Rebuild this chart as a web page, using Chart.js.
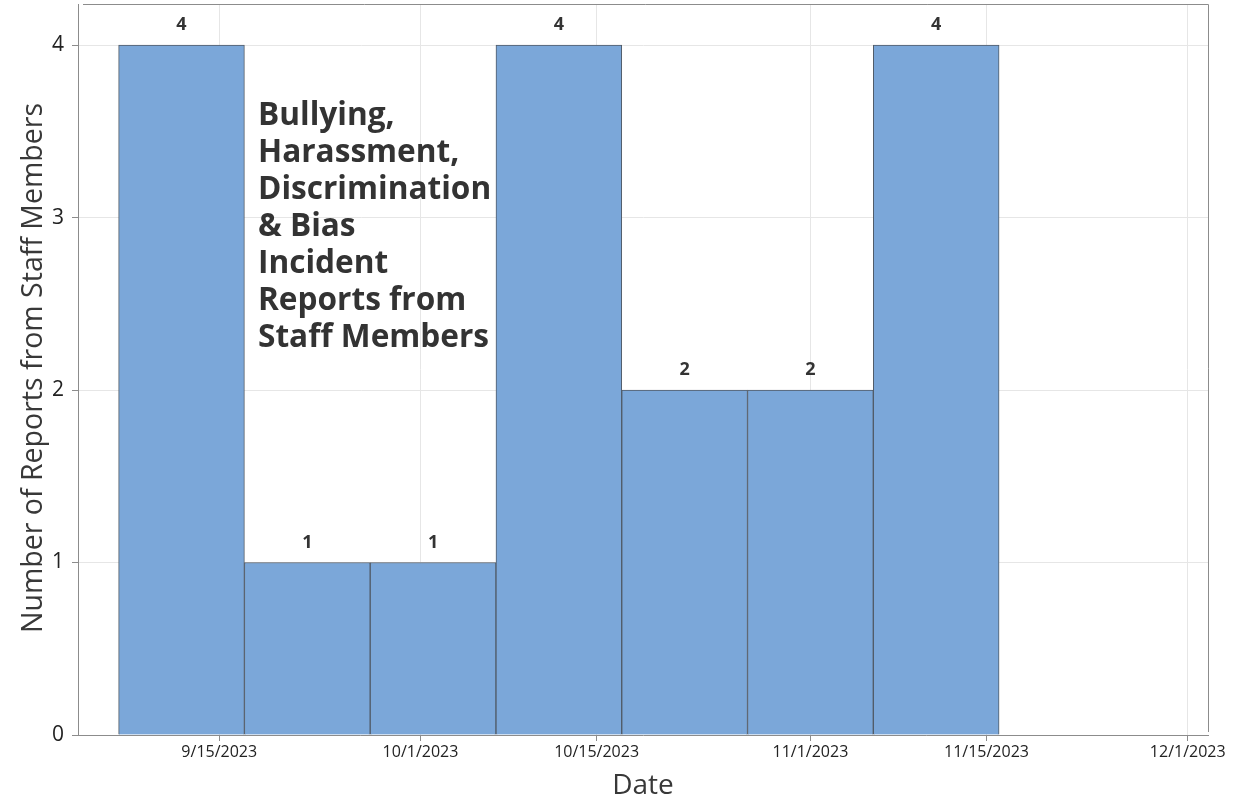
<!DOCTYPE html>
<html>
<head>
<meta charset="utf-8">
<script src="https://cdn.jsdelivr.net/npm/chart.js@4.4.0/dist/chart.umd.min.js"></script>
<style>
  html, body { margin: 0; padding: 0; background: #ffffff; }
  #wrap { width: 1234px; height: 803px; position: relative; }
</style>
</head>
<body>
<div id="wrap"><canvas id="c" width="1234" height="803"></canvas></div>
<script>
// ---- data ----
const binCenters = ['9/12/2023', '9/22/2023', '10/2/2023', '10/12/2023', '10/22/2023', '11/1/2023', '11/11/2023'];
const counts = [4, 1, 1, 4, 2, 2, 4];
const xTickLabels = ['9/15/2023', '10/1/2023', '10/15/2023', '11/1/2023', '11/15/2023', '12/1/2023'];
const yTicks = [0, 1, 2, 3, 4];
const titleLines = ['Bullying,', 'Harassment,', 'Discrimination', '& Bias', 'Incident', 'Reports from', 'Staff Members'];
const xAxisTitle = 'Date';
const yAxisTitle = 'Number of Reports from Staff Members';

function dayNum(s) {
  const [m, d, y] = s.split('/').map(Number);
  return Date.UTC(y, m - 1, d) / 864e5;
}
function fmt(v) {
  const dt = new Date(Math.round(v) * 864e5);
  return (dt.getUTCMonth() + 1) + '/' + dt.getUTCDate() + '/' + dt.getUTCFullYear();
}

const points = binCenters.map((c, i) => ({ x: dayNum(c), y: counts[i] }));
const xTickVals = xTickLabels.map(dayNum);

const FONT = "'Open Sans', 'Noto Sans', 'DejaVu Sans', sans-serif";
const TXT = '#333333';

const extras = {
  id: 'extras',
  afterDatasetsDraw(chart) {
    const { ctx, chartArea: a } = chart;
    ctx.save();
    // frame top and right
    ctx.strokeStyle = '#8c8c8c';
    ctx.lineWidth = 1;
    ctx.beginPath();
    ctx.moveTo(a.left + 5, a.top + 0.5);
    ctx.lineTo(a.right + 0.5, a.top + 0.5);
    ctx.lineTo(a.right + 0.5, a.bottom - 3);
    ctx.stroke();

    // value labels
    ctx.fillStyle = TXT;
    ctx.font = 'bold 18px ' + FONT;
    ctx.textAlign = 'center';
    ctx.textBaseline = 'middle';
    const meta = chart.getDatasetMeta(0);
    meta.data.forEach((bar, i) => {
      ctx.fillText(String(counts[i]), bar.x, bar.y - 20);
    });

    // annotation title in plot
    let size = 30;
    ctx.font = 'bold ' + size + 'px ' + FONT;
    const w = ctx.measureText('Discrimination').width;
    size = size * 233 / w;
    ctx.font = 'bold ' + size.toFixed(1) + 'px ' + FONT;
    ctx.textAlign = 'left';
    ctx.textBaseline = 'middle';
    titleLines.forEach((ln, i) => {
      ctx.fillText(ln, 258, 116 + i * 37);
    });

    // axis titles
    ctx.font = '28px ' + FONT;
    ctx.textAlign = 'center';
    ctx.fillStyle = '#383838';
    ctx.fillText(xAxisTitle, 643, 786);
    ctx.translate(34, 368);
    ctx.rotate(-Math.PI / 2);
    ctx.font = '28.5px ' + FONT;
    ctx.fillText(yAxisTitle, 0, 0);
    ctx.restore();
  }
};

new Chart(document.getElementById('c'), {
  type: 'bar',
  data: {
    datasets: [{
      data: points,
      backgroundColor: '#7ba7d9',
      borderColor: '#505a66',
      borderWidth: 1,
      barPercentage: 1.0,
      categoryPercentage: 1.0
    }]
  },
  options: {
    responsive: false,
    animation: false,
    devicePixelRatio: 1,
    layout: { padding: { top: 4, right: 26, left: 0, bottom: 0 } },
    plugins: { legend: { display: false }, tooltip: { enabled: false } },
    scales: {
      x: {
        type: 'linear',
        offset: false,
        min: dayNum('9/15/2023') - 11.23,
        max: dayNum('12/1/2023') + 1.61,
        afterBuildTicks(s) { s.ticks = xTickVals.map(v => ({ value: v })); },
        afterFit(s) { s.height = 68; s.paddingLeft = 0; s.paddingRight = 0; },
        ticks: {
          autoSkip: false,
          maxRotation: 0,
          padding: 2,
          color: '#222',
          font: { family: FONT, size: 16 },
          callback: (v) => fmt(v)
        },
        grid: { offset: false, color: '#e6e6e6', tickColor: '#8c8c8c', tickLength: 6, drawTicks: true },
        border: { color: '#8c8c8c' }
      },
      y: {
        min: 0,
        max: 4.238,
        afterBuildTicks(s) { s.ticks = yTicks.map(v => ({ value: v })); },
        afterFit(s) { s.width = 78; s.paddingTop = 0; s.paddingBottom = 0; },
        ticks: {
          padding: 8,
          color: '#222',
          font: { family: FONT, size: 21 }
        },
        grid: { color: '#e6e6e6', tickColor: '#8c8c8c', tickLength: 6, drawTicks: true },
        border: { color: '#8c8c8c' }
      }
    }
  },
  plugins: [extras]
});
</script>
</body>
</html>
